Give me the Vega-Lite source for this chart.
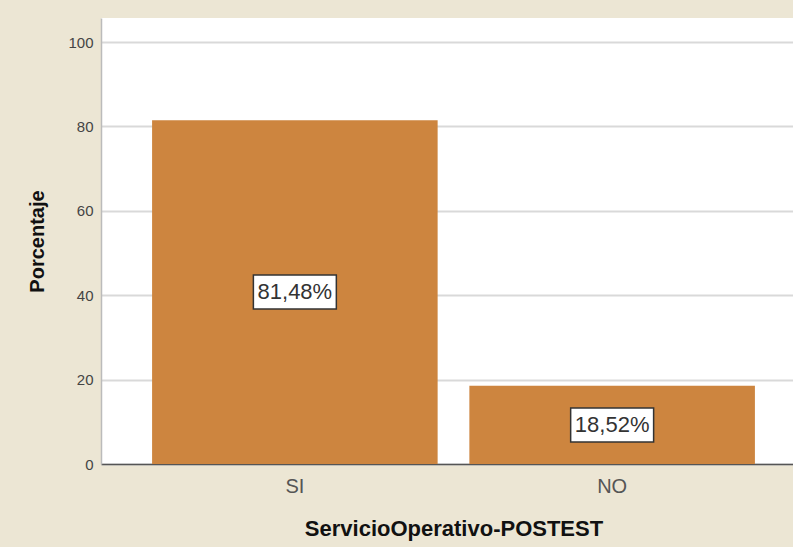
{
  "$schema": "https://vega.github.io/schema/vega-lite/v6.json",
  "autosize": {"type": "none"},
  "padding": {"left": 101, "top": 18, "right": 0, "bottom": 83},
  "width": 705,
  "height": 446,
  "background": "#ece6d4",
  "config": {
    "font": "Liberation Sans",
    "view": {"fill": "#ffffff", "stroke": null}
  },
  "data": {
    "values": [
      {"servicio": "SI", "pct": 81.48, "label": "81,48%"},
      {"servicio": "NO", "pct": 18.52, "label": "18,52%"}
    ]
  },
  "encoding": {
    "x": {
      "field": "servicio",
      "type": "nominal",
      "sort": ["SI", "NO"],
      "scale": {"paddingInner": 0.1, "paddingOuter": 0.161},
      "axis": {
        "title": "ServicioOperativo-POSTEST",
        "titleFontSize": 22,
        "titleFontWeight": "bold",
        "titleColor": "#111111",
        "titlePadding": 22,
        "labelAngle": 0,
        "labelFontSize": 20,
        "labelColor": "#555555",
        "labelPadding": 12,
        "ticks": false,
        "tickSize": 0,
        "domainColor": "#555555",
        "domainWidth": 1.5
      }
    }
  },
  "layer": [
    {
      "mark": {"type": "bar", "color": "#cd853f"},
      "encoding": {
        "y": {
          "field": "pct",
          "type": "quantitative",
          "scale": {"domain": [0, 105.7], "nice": false},
          "axis": {
            "title": "Porcentaje",
            "titleFontSize": 20,
            "titleFontWeight": "bold",
            "titleColor": "#111111",
            "titlePadding": 20,
            "values": [0, 20, 40, 60, 80, 100],
            "labelFontSize": 15,
            "labelColor": "#444444",
            "labelPadding": 8,
            "ticks": false,
            "tickSize": 0,
            "domainColor": "#bbbbbb",
            "domainWidth": 1.5,
            "gridColor": "#d9d9d9",
            "gridWidth": 2
          }
        }
      }
    },
    {
      "transform": [{"calculate": "datum.pct / 2", "as": "mid"}],
      "mark": {
        "type": "point",
        "shape": "M-2.44,-1L2.44,-1L2.44,1L-2.44,1Z",
        "filled": true,
        "fill": "#ffffff",
        "fillOpacity": 1,
        "stroke": "#333333",
        "strokeWidth": 1.5,
        "size": 1156,
        "opacity": 1
      },
      "encoding": {
        "y": {"field": "mid", "type": "quantitative"}
      }
    },
    {
      "transform": [{"calculate": "datum.pct / 2", "as": "mid"}],
      "mark": {
        "type": "text",
        "fontSize": 22,
        "color": "#333333",
        "baseline": "middle",
        "align": "center"
      },
      "encoding": {
        "y": {"field": "mid", "type": "quantitative"},
        "text": {"field": "label"}
      }
    }
  ]
}
